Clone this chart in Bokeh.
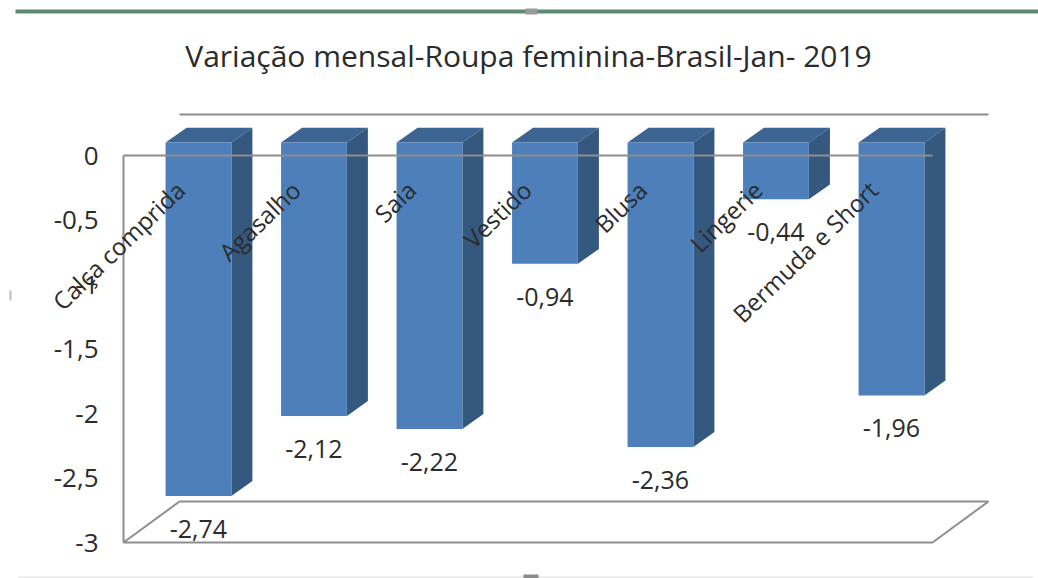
from bokeh.core.properties import value
from bokeh.embed import file_html
from bokeh.resources import INLINE
from bokeh.plotting import figure
from bokeh.models import (BoxAnnotation, ColumnDataSource, FixedTicker, Label, LabelSet,
                          Range1d)

categories = ["Calça comprida", "Agasalho", "Saia", "Vestido", "Blusa", "Lingerie", "Bermuda e Short"]
values = [-2.74, -2.12, -2.22, -0.94, -2.36, -0.44, -1.96]
y_ticks = [0, -0.5, -1, -1.5, -2, -2.5, -3]
y_tick_labels = ["0", "-0,5", "-1", "-1,5", "-2", "-2,5", "-3"]
title_text = "Variação mensal-Roupa feminina-Brasil-Jan- 2019"

FRONT = "#4d7fba"
SIDE = "#35587f"
TOP = "#3c6492"
GRID = "#8e8e8e"
TEXT = "#2b2b2b"
FONT = "Open Sans"

# 3D look, in data units
bar_w = 0.57
front_lift = 0.10      # front face of the bars sits this far above the axis zero
bar_dx, bar_dy = 0.182, 0.116
floor_dx, floor_dy = 0.485, 0.318
x_left, x_right_floor = -0.649, 6.355

xs = list(range(len(categories)))
left = [x - bar_w / 2 for x in xs]
right = [x + bar_w / 2 for x in xs]
top = [front_lift] * len(xs)
bottom = [v + front_lift for v in values]

p = figure(width=1038, height=578, output_backend="svg", toolbar_location=None,
           x_range=Range1d(-1.714, 7.273), y_range=Range1d(-3.279, 1.2016),
           min_border_left=0, min_border_right=0, min_border_top=0, min_border_bottom=0)
p.outline_line_color = None
p.grid.visible = False
p.xaxis.visible = False

p.add_layout(Label(x=528, y=55, x_units="canvas", y_units="canvas", text=title_text,
                   text_align="center", text_baseline="middle",
                   text_font=FONT, text_font_size="30px", text_color=TEXT))

ya = p.yaxis[0]
ya.fixed_location = x_left
ya.ticker = FixedTicker(ticks=y_ticks)
ya.major_label_overrides = dict(zip(y_ticks, y_tick_labels))
ya.major_label_text_font = FONT
ya.major_label_text_font_size = "26px"
ya.major_label_text_color = TEXT
ya.major_tick_line_color = None
ya.minor_tick_line_color = None
ya.major_label_standoff = 19
ya.axis_line_color = GRID
ya.axis_line_width = 2
ya.bounds = (-3, 0)

# floor and back wall
p.patch([x_left, x_right_floor, x_right_floor + floor_dx, x_left + floor_dx],
        [-3, -3, -3 + floor_dy, -3 + floor_dy],
        fill_color="#ffffff", line_color=GRID, line_width=2)
p.line([x_left + floor_dx, x_right_floor + floor_dx], [floor_dy, floor_dy], line_color=GRID, line_width=2)

# bar side and top faces
p.patches([[r, r + bar_dx, r + bar_dx, r] for r in right],
          [[t, t + bar_dy, b + bar_dy, b] for t, b in zip(top, bottom)],
          fill_color=SIDE, line_color=None)
p.patches([[l, l + bar_dx, r + bar_dx, r] for l, r in zip(left, right)],
          [[t, t + bar_dy, t + bar_dy, t] for t in top],
          fill_color=TOP, line_color=None)
p.quad(left=left, right=right, top=top, bottom=bottom, fill_color=FRONT, line_color=None)

# zero line over the bars
p.line([x_left, x_right_floor], [0, 0], line_color=GRID, line_width=2)

label_src = ColumnDataSource(dict(
    x=xs, y=bottom,
    text=[f"{v:.2f}".replace(".", ",") for v in values],
))
p.add_layout(LabelSet(x="x", y="y", text="text", source=label_src, y_offset=-33,
                      text_align="center", text_baseline="middle",
                      text_font=value(FONT), text_font_size="25px", text_color=TEXT))

for x, name in zip(xs, categories):
    p.add_layout(Label(x=x, y=0, text=name, angle=44, angle_units="deg",
                       x_offset=-18, y_offset=-30,
                       text_align="right", text_baseline="middle",
                       text_font=FONT, text_font_size="24px", text_color=TEXT))

# chart-area frame of the screenshot
for l, r, t, b, c in [(15, 1038, 9, 13, "#5d8a72"), (525, 537, 8, 14, "#9a9a9a"),
                      (18, 1032, 576, 578, "#e6e6e6"), (523, 538, 574, 578, "#8a8a8a"),
                      (9, 11, 290, 300, "#bdbdbd")]:
    p.add_layout(BoxAnnotation(left=l, right=r, top=t, bottom=b, left_units="canvas", right_units="canvas",
                               top_units="canvas", bottom_units="canvas", fill_color=c, fill_alpha=1,
                               line_color=None, level="overlay"))

open("out.html", "w").write(file_html(p, INLINE))
